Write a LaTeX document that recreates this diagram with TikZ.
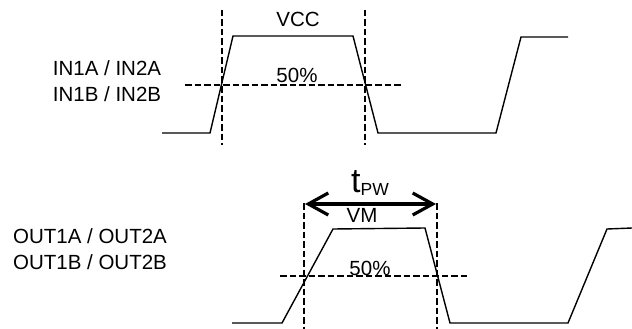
\documentclass[tikz,border=0pt]{standalone}
\usepackage{fontspec}
\setmainfont{Liberation Sans}
\usepackage{tikz}
\usetikzlibrary{arrows.meta}

\begin{document}
\begin{tikzpicture}[
        x=1pt, y=-1pt,
        wave/.style={line width=1.4pt, line join=miter},
        guide/.style={line width=2.4pt, dash pattern=on 6.5pt off 3pt},
        pwarrow/.style={{Straight Barb[length=20pt,width=22pt]}-{Straight Barb[length=20pt,width=22pt]}, line width=3.2pt},
        lbl/.style={anchor=base, inner sep=0pt, font=\fontsize{20.5}{25}\selectfont}
    ]
    \useasboundingbox (0,0) rectangle (632,329);

    % input waveform
    \draw[wave] (162,133) -- (210,133) -- (233,36) -- (353,36) -- (378,133)
        -- (496,133) -- (521,37) -- (568,37);
    \draw[guide] (222,10) -- (222,145);
    \draw[guide] (365,10) -- (365,145);
    \draw[guide] (185,85) -- (403,85);

    \node[lbl] (vcc) at (298,27) {VCC};
    \node[lbl] (inhalf) at (297,83) {50\%};
    \node[lbl] (inA) at (107,76) {IN1A / IN2A};
    \node[lbl] (inB) at (107,101) {IN1B / IN2B};

    % output waveform
    \draw[wave] (232,323) -- (282,323) -- (333,229) -- (425,228) -- (450,323)
        -- (568,323) -- (607,229) -- (632,228);
    \draw[guide] (304,203) -- (304,329);
    \draw[guide] (437,203) -- (437,329);
    \draw[guide] (280,276) -- (470,276);

    \node[lbl] (vm) at (362,222) {VM};
    \node[lbl] (outhalf) at (370,275) {50\%};
    \node[lbl] (outA) at (90,243) {OUT1A / OUT2A};
    \node[lbl] (outB) at (90,269) {OUT1B / OUT2B};

    % pulse width
    \coordinate (pwL) at (305,204);
    \coordinate (pwR) at (436,204);
    \draw[pwarrow] (pwL) -- (pwR);
    \node[anchor=base west, inner sep=0pt] (tpw) at (351,192)
        {\fontsize{34}{34}\selectfont t\raisebox{-3pt}{\fontsize{17.5}{17.5}\selectfont PW}};

\end{tikzpicture}
\end{document}
